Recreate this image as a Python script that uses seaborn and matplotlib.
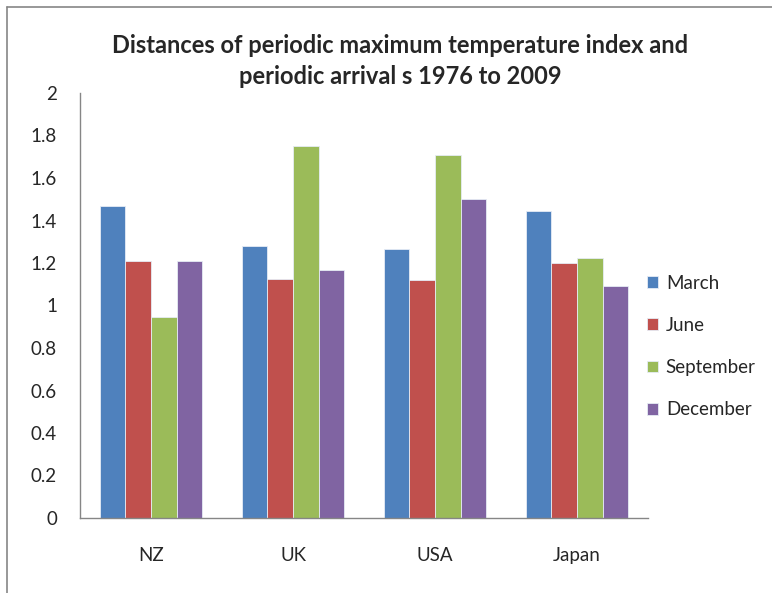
import matplotlib
matplotlib.use("Agg")
import matplotlib.pyplot as plt
from matplotlib.lines import Line2D
import seaborn as sns
import pandas as pd

# data
countries = ["NZ", "UK", "USA", "Japan"]
months = ["March", "June", "September", "December"]
march = [1.47, 1.278, 1.266, 1.447]
june = [1.21, 1.126, 1.121, 1.201]
september = [0.947, 1.751, 1.708, 1.223]
december = [1.21, 1.168, 1.503, 1.091]
colors = ["#4F81BD", "#C0504D", "#9BBB59", "#8064A2"]

series = {"March": march, "June": june, "September": september, "December": december}
rows = []
for m in months:
    for c, v in zip(countries, series[m]):
        rows.append({"Country": c, "Month": m, "Value": v})
df = pd.DataFrame(rows)

sns.set_style("white")
plt.rcParams["font.family"] = ["Lato", "DejaVu Sans"]

fig = plt.figure(figsize=(7.72, 5.93), dpi=100)
ax = fig.add_axes([80 / 772, 75 / 593, 568 / 772, 425 / 593])

sns.barplot(data=df, x="Country", y="Value", hue="Month", order=countries,
            hue_order=months, palette=colors, width=0.72, saturation=1,
            edgecolor="#E6ECF5", linewidth=0.6, ax=ax)

ax.set_ylim(0, 2)
ax.set_xlim(-0.5, 3.5)
ax.set_yticks([0, 0.2, 0.4, 0.6, 0.8, 1, 1.2, 1.4, 1.6, 1.8, 2])
ax.set_yticklabels(["0", "0.2", "0.4", "0.6", "0.8", "1", "1.2", "1.4", "1.6", "1.8", "2"])
ax.set_xlabel("")
ax.set_ylabel("")

# tick marks between categories, labels centred
ax.set_xticks([-0.5, 0.5, 1.5, 2.5, 3.5], minor=True)
ax.tick_params(axis="x", which="major", length=0, pad=21, labelsize=13.5)
ax.tick_params(axis="x", which="minor", length=6.5, width=1, color="#868686", direction="out")
ax.tick_params(axis="y", length=6.5, width=1, color="#868686", direction="out", labelsize=13.5, pad=10)

for side in ["top", "right"]:
    ax.spines[side].set_visible(False)
for side in ["left", "bottom"]:
    ax.spines[side].set_color("#868686")
    ax.spines[side].set_linewidth(1)

ax.legend(loc="center left", bbox_to_anchor=(647 / 772, 0.4157), bbox_transform=fig.transFigure,
          frameon=False, fontsize=13.5, handlelength=0.6, handleheight=0.6, handletextpad=0.4,
          labelspacing=1.35, borderaxespad=0, borderpad=0)

fig.text(0.518, 0.897, "Distances of periodic maximum temperature index and\nperiodic arrival s 1976 to 2009",
         ha="center", va="center", fontsize=17, fontweight="bold", linespacing=1.4)

# chart area border (cropped)
fig.add_artist(Line2D([7 / 772, 7 / 772], [0, 1 - 7 / 593], color="#868686", lw=1.2))
fig.add_artist(Line2D([7 / 772, 1], [1 - 7 / 593, 1 - 7 / 593], color="#868686", lw=1.2))

fig.savefig("out.png", dpi=100)
